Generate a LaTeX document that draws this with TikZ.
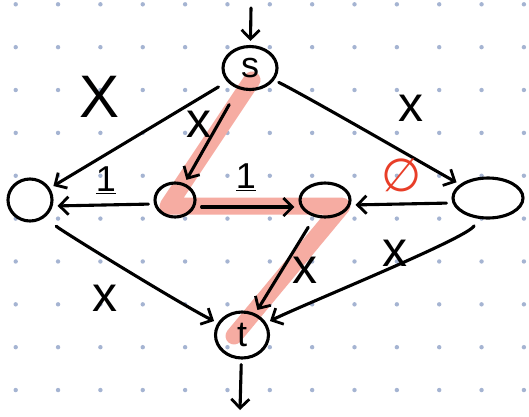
\documentclass[tikz,border=0pt]{standalone}
\usepackage{fontspec}
\setmainfont{Liberation Sans}
\newfontfamily\symfont{DejaVu Sans}
\usetikzlibrary{arrows.meta,shapes.geometric}
\definecolor{dotc}{RGB}{165,180,210}
\definecolor{hl}{RGB}{246,172,162}
\definecolor{redlbl}{RGB}{232,62,40}
\begin{document}
\begin{tikzpicture}[x=1pt,y=-1pt, line width=3.1pt, line cap=round, line join=round,
  nd/.style={draw, ellipse, inner sep=0pt, line width=3.1pt},
  ed/.style={-{Straight Barb[length=9pt,width=18pt,line width=2.8pt]}, shorten <=5pt, shorten >=4pt},
  lblx/.style={font=\fontsize{60}{60}\selectfont},
  lbln/.style={font=\fontsize{50}{50}\selectfont},
  lbl1/.style={font=\fontsize{36}{36}\selectfont}]
\fill[white] (0,0) rectangle (529,416);
\useasboundingbox (0,0) rectangle (529,416);
\foreach \i in {0,...,12} \foreach \j in {0,...,9}
  \fill[dotc] (15.7+42.35*\i, 4.3+42.86*\j) circle (2.2);
% highlight
\draw[hl, line width=17pt] (252,80) -- (168,206) -- (342,206) -- (234,336);
% nodes
\node[nd, minimum width=54, minimum height=43] (s) at (250,68) {\fontsize{36}{36}\selectfont s};
\node[nd, minimum width=44, minimum height=42] (a) at (30,200) {};
\node[nd, minimum width=40, minimum height=34] (b) at (175,200) {};
\node[nd, minimum width=50, minimum height=34] (c) at (325,200) {};
\node[nd, minimum width=70, minimum height=40] (d) at (488,198) {};
\node[nd, minimum width=53, minimum height=46] (t) at (242,335) {\fontsize{36}{36}\selectfont t};
\coordinate (in) at (251,8);
\coordinate (out) at (240,410);
% edges
\draw[ed, shorten <=0pt] (in) -- (s);
\draw[ed, shorten >=0pt] (t) -- (out);
\draw[ed, shorten <=10pt] (s) -- (a);
\draw[ed, shorten <=18pt] (s) -- (b);
\draw[ed] (s) .. controls +(60,30) and +(-40,-20) .. (d);
\draw[ed] ([yshift=-4pt]b.west) -- ([yshift=-6pt]a.east);
\draw[ed] ([yshift=-7pt]b.east) -- ([yshift=-7pt]c.west);
\draw[ed] ([yshift=-5pt]d.west) -- ([yshift=-5pt]c.east);
\draw[ed, shorten <=14pt] (a) .. controls +(30,30) and +(-60,-30) .. (t);
\draw[ed, shorten <=12pt] (c) -- (t);
\draw[ed, shorten <=8pt] (d) .. controls +(-20,40) and +(60,-30) .. (t);
% labels
\node[lblx] (l1) at (100,97) {X};
\node[lbln] (l2) at (199,124) {x};
\node[lbln] (l3) at (411,108) {x};
\node[lbl1] (l4) at (106,180) {\underline{1}};
\node[lbl1] (l5) at (246,177) {\underline{1}};
\node[text=redlbl, font=\symfont\fontsize{46}{46}\selectfont] (l6) at (402,175) {∅};
\node[lbln] (l7) at (105,298) {x};
\node[lbln] (l8) at (305,270) {x};
\node[lbln] (l9) at (395,253) {x};
\end{tikzpicture}
\end{document}
